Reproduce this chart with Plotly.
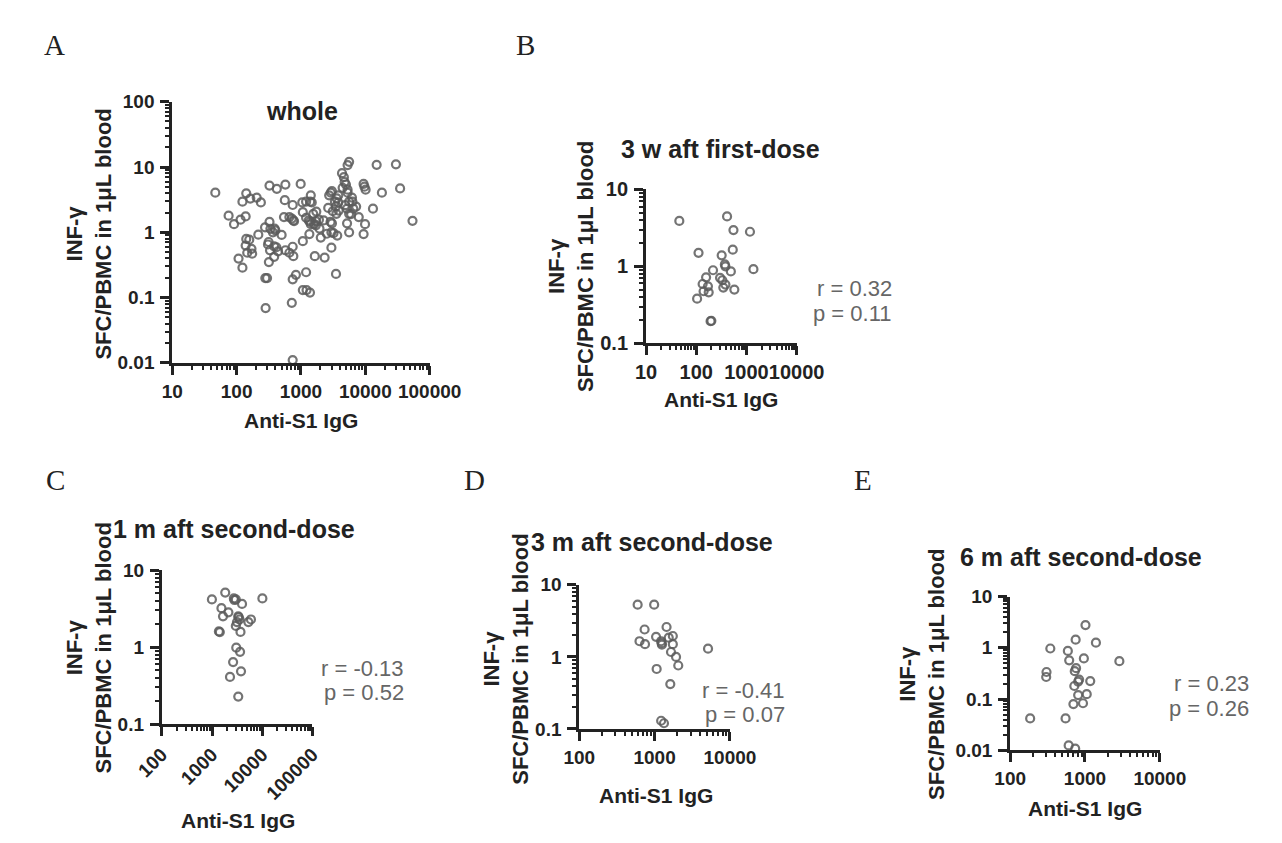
import math
import plotly.graph_objects as go

# ---------------- data ----------------
A_igg = [46.6, 75, 91, 115, 138, 123, 141, 163, 205, 238, 217, 141, 157, 138, 170, 146, 174, 107, 123,
         324, 421, 324, 276, 335, 389, 366, 400, 314, 307, 330, 383, 415, 440, 383, 317, 279, 297, 282, 500,
         572, 560, 743, 544, 660, 720, 760, 780, 572, 660, 743, 760, 834, 743, 720, 743,
         989, 1047, 1068, 1200, 1390, 1420, 1470, 1068, 1200, 1320, 1380, 1420, 1550, 1730, 1700, 1900,
         1600, 1700, 1940, 2250, 1350, 2030, 2520, 1640, 2330, 1200, 1068, 1220, 1380,
         2650, 2900, 3020, 2740, 2880, 3030, 2970, 3200, 3660, 2970, 3500, 3370, 3600, 3800, 3800, 3500,
         3850, 3550, 3120, 4340, 4640, 4770, 5000, 4440, 5300, 5600, 5300, 5300, 5600, 4860, 5200, 5600,
         6200, 6300, 6500, 6000, 5200, 5600, 7200, 7900, 9400, 9700, 10100, 9900, 9400,
         13150, 15000, 18100, 29900, 34700, 54100]
A_ifn = [4.05, 1.8, 1.33, 1.56, 1.75, 2.94, 3.95, 3.29, 3.4, 2.87, 0.92, 0.79, 0.77, 0.625, 0.557, 0.486, 0.47, 0.395, 0.287,
         5.2, 4.64, 1.44, 1.19, 1.13, 1.14, 1.0, 1.07, 0.71, 0.65, 0.53, 0.61, 0.59, 0.51, 0.42, 0.35, 0.199, 0.199, 0.069, 0.91,
         5.39, 3.11, 2.62, 1.71, 1.71, 1.62, 1.52, 1.48, 0.53, 0.486, 0.6, 0.43, 0.223, 0.19, 0.083, 0.011,
         5.5, 2.87, 2.03, 2.94, 2.94, 3.69, 2.87, 0.73, 1.67, 1.52, 1.44, 1.33, 1.92, 2.08, 1.48, 1.56,
         1.33, 1.28, 1.14, 1.52, 0.94, 0.83, 0.95, 0.43, 0.41, 0.244, 0.13, 0.13, 0.119,
         2.36, 4.05, 4.28, 3.69, 1.44, 1.37, 1.0, 0.97, 0.89, 0.58, 0.23, 2.94, 3.3, 3.69, 2.87, 2.5,
         2.15, 1.92, 2.1, 8.04, 7.0, 5.9, 5.4, 4.8, 4.5, 12.0, 10.7, 4.05, 2.94, 2.6, 2.3, 1.92,
         3.4, 2.94, 2.3, 1.9, 1.37, 1.0, 2.48, 1.71, 5.5, 5.0, 4.5, 1.33, 0.94,
         2.3, 10.8, 4.05, 11.0, 4.7, 1.5]

B_igg = [46, 411, 551, 1175, 111, 534, 321, 371, 381, 216, 489, 1377, 157, 298, 331, 134, 171, 140, 177,
         381, 346, 574, 104, 193, 200]
B_ifn = [3.9, 4.46, 2.96, 2.82, 1.5, 1.65, 1.39, 1.06, 1.0, 0.89, 0.86, 0.92, 0.72, 0.71, 0.66, 0.59, 0.55, 0.475, 0.46,
         0.58, 0.53, 0.5, 0.38, 0.194, 0.196]

C_igg = [995, 1833, 1540, 2120, 1655, 1370, 1430, 2720, 2980, 3960, 10070, 3330, 3530, 3140, 2980, 5300, 5960,
         3690, 3040, 3620, 2630, 2280, 3780, 3330, 2800, 3400]
C_ifn = [4.18, 5.12, 3.21, 2.84, 2.52, 1.6, 1.57, 4.3, 4.18, 3.65, 4.3, 2.52, 2.29, 2.12, 1.89, 2.12, 2.29,
         1.58, 0.985, 0.87, 0.64, 0.41, 0.485, 0.228, 4.1, 2.45]

D_igg = [595, 986, 736, 1440, 630, 745, 1045, 1220, 1240, 1250, 1540, 1745, 1745, 1650, 1925, 2060, 5120,
         1064, 1615, 1220, 1330]
D_ifn = [5.3, 5.3, 2.4, 2.6, 1.65, 1.5, 1.9, 1.65, 1.55, 1.48, 1.85, 1.95, 1.5, 1.17, 1.0, 0.76, 1.3,
         0.68, 0.42, 0.13, 0.12]

E_igg = [1015, 750, 1400, 344, 590, 966, 615, 2880, 306, 303, 760, 730, 835, 810, 1175, 720, 810, 1055,
         700, 940, 185, 550, 605, 740]
E_ifn = [2.77, 1.44, 1.26, 0.97, 0.87, 0.62, 0.57, 0.55, 0.338, 0.27, 0.40, 0.35, 0.24, 0.22, 0.225, 0.18, 0.12, 0.125,
         0.08, 0.083, 0.042, 0.042, 0.0125, 0.0108]

titles = ["whole", "3 w aft first-dose", "1 m aft second-dose", "3 m aft second-dose", "6 m aft second-dose"]
letters = ["A", "B", "C", "D", "E"]
stats_r = [None, "r = 0.32", "r = -0.13", "r = -0.41", "r = 0.23"]
stats_p = [None, "p = 0.11", "p = 0.52", "p = 0.07", "p = 0.26"]

x_ticks_A = [10, 100, 1000, 10000, 100000]
x_ticks_B = [10, 100, 1000, 10000]
x_ticks_C = [100, 1000, 10000, 100000]
x_ticks_DE = [100, 1000, 10000]
y_ticks_A = [0.01, 0.1, 1, 10, 100]
y_ticks_BCD = [0.1, 1, 10]
y_ticks_E = [0.01, 0.1, 1, 10]

x_title = "Anti-S1 IgG"
y_title_1 = "INF-γ"
y_title_2 = "SFC/PBMC in 1μL blood"

# ---------------- layout helpers ----------------
W, H = 1282, 843
FONT = "Liberation Sans, Arial, sans-serif"
INK = "#222222"
MARK = "rgba(92,92,92,0.85)"


def fx(px):
    return px / W


def fy(py):
    return 1 - py / H


def fmt(v):
    return "%g" % v


def minor_vals(ticks):
    return [t * k for t in ticks[:-1] for k in range(2, 10)]


panels = [
    dict(x=A_igg, y=A_ifn, xt=x_ticks_A, yt=y_ticks_A, box=(143, 413, 85, 353), ang=0, tf=19,
         title=(279, 94), xtitle=(278, 412), ytitle=(56, 221), letter=(19, 27), stats=None),
    dict(x=B_igg, y=B_ifn, xt=x_ticks_B, yt=y_ticks_BCD, box=(640, 798, 175, 333), ang=0, tf=20,
         title=(718, 133), xtitle=(719, 391), ytitle=(562, 254), letter=(514, 27), stats=(900, 277, 302)),
    dict(x=C_igg, y=C_ifn, xt=x_ticks_C, yt=y_ticks_BCD, box=(132, 290, 566, 724), ang=-45, tf=19,
         title=(208, 524), xtitle=(212, 823), ytitle=(56, 646), letter=(20, 473), stats=(388, 667, 692)),
    dict(x=D_igg, y=D_ifn, xt=x_ticks_DE, yt=y_ticks_BCD, box=(570, 728, 581, 729), ang=0, tf=19,
         title=(646, 537), xtitle=(650, 797), ytitle=(493, 657), letter=(460, 473), stats=(788, 689, 714)),
    dict(x=E_igg, y=E_ifn, xt=x_ticks_DE, yt=y_ticks_E, box=(1022, 1179, 593, 751), ang=0, tf=19,
         title=(1096, 552), xtitle=(1100, 811), ytitle=(930, 673), letter=(868, 473), stats=(1275, 682, 708)),
]

fig = go.Figure()
annotations = []
n = len(panels)

for i, p in enumerate(panels):
    sfx = "" if i == 0 else str(i + 1)
    msfx = str(i + 1 + n)  # overlay axes carrying the minor ticks
    x0, x1, y0, y1 = p["box"]
    xr = [math.log10(p["xt"][0]), math.log10(p["xt"][-1])]
    yr = [math.log10(p["yt"][0]), math.log10(p["yt"][-1])]

    fig.add_trace(go.Scatter(
        x=p["x"], y=p["y"], mode="markers", xaxis="x" + sfx, yaxis="y" + sfx,
        marker=dict(symbol="circle-open", size=8, color=MARK, line=dict(width=2.2, color=MARK)),
        cliponaxis=False, showlegend=False, hoverinfo="skip"))
    fig.add_trace(go.Scatter(x=[], y=[], mode="markers", xaxis="x" + msfx, yaxis="y" + msfx,
                             showlegend=False, hoverinfo="skip"))

    common = dict(type="log", showline=True, linewidth=3, linecolor=INK, ticks="outside",
                  ticklen=9, tickwidth=3, tickcolor=INK, showgrid=False, zeroline=False,
                  tickfont=dict(family=FONT, size=p["tf"], color=INK, weight="bold"), tickmode="array")
    fig.layout["xaxis" + sfx] = dict(common, domain=[fx(x0), fx(x1)], anchor="y" + sfx, range=xr,
                                     tickvals=p["xt"], ticktext=[fmt(v) for v in p["xt"]],
                                     tickangle=p["ang"])
    fig.layout["yaxis" + sfx] = dict(common, domain=[fy(y1), fy(y0)], anchor="x" + sfx, range=yr,
                                     tickvals=p["yt"], ticktext=[fmt(v) for v in p["yt"]],
                                     ticklabelstandoff=2)
    minor = dict(type="log", showline=False, showgrid=False, zeroline=False, ticks="outside",
                 ticklen=6, tickwidth=2.2, tickcolor=INK, showticklabels=False, tickmode="array")
    fig.layout["xaxis" + msfx] = dict(minor, overlaying="x" + sfx, anchor="y" + sfx, range=xr,
                                      tickvals=minor_vals(p["xt"]), side="bottom")
    fig.layout["yaxis" + msfx] = dict(minor, overlaying="y" + sfx, anchor="x" + sfx, range=yr,
                                      tickvals=minor_vals(p["yt"]), side="left")

    tx, ty = p["title"]
    annotations.append(dict(text="<b>%s</b>" % titles[i], x=fx(tx), y=fy(ty), xref="paper", yref="paper",
                            showarrow=False, xanchor="center", yanchor="middle",
                            font=dict(family=FONT, size=25, color=INK)))
    ax_, ay_ = p["xtitle"]
    annotations.append(dict(text="<b>%s</b>" % x_title, x=fx(ax_), y=fy(ay_), xref="paper", yref="paper",
                            showarrow=False, xanchor="center", yanchor="middle",
                            font=dict(family=FONT, size=21, color=INK)))
    bx, by = p["ytitle"]
    annotations.append(dict(text="<b>%s</b><br><b>%s</b>" % (y_title_1, y_title_2), x=fx(bx), y=fy(by),
                            xref="paper", yref="paper", showarrow=False, textangle=-90,
                            xanchor="center", yanchor="middle",
                            font=dict(family=FONT, size=22, color=INK)))
    lx, ly = p["letter"]
    annotations.append(dict(text=letters[i], x=fx(lx), y=fy(ly), xref="paper", yref="paper",
                            showarrow=False, xanchor="center", yanchor="middle",
                            font=dict(family="Liberation Serif, DejaVu Serif, serif", size=29, color=INK)))
    if p["stats"]:
        sx, ry, py_ = p["stats"]
        for txt, yy in ((stats_r[i], ry), (stats_p[i], py_)):
            annotations.append(dict(text=txt, x=fx(sx), y=fy(yy), xref="paper", yref="paper",
                                    showarrow=False, xanchor="right", yanchor="middle",
                                    font=dict(family=FONT, size=22, color="#666666")))

fig.update_layout(width=W, height=H, margin=dict(l=0, r=0, t=0, b=0),
                  paper_bgcolor="white", plot_bgcolor="white", annotations=annotations,
                  font=dict(family=FONT, color=INK))

fig.write_html("out.html")
